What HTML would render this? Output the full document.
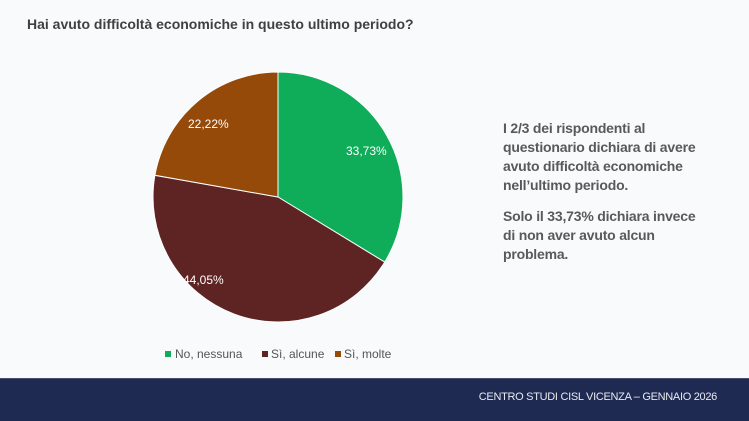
<!DOCTYPE html>
<html><head><meta charset="utf-8"><style>
body{margin:0;width:749px;height:420px;background:#f8fafc;font-family:"Liberation Sans",sans-serif;position:relative;overflow:hidden}
.t{position:absolute;left:27px;top:16px;font-size:14px;font-weight:bold;color:#404040}
.p{position:absolute;left:503px;top:119px;font-size:14px;font-weight:bold;color:#595959;line-height:19px;letter-spacing:-0.2px}
.p div{margin-bottom:12px}
.f{position:absolute;left:0;top:378px;width:749px;height:42px;background:#1e2a52;border-top:1px solid #46506e}
.f span{position:absolute;right:32px;top:12px;color:#e8eaf0;font-size:11px;letter-spacing:-0.3px}
</style></head><body>
<div class="t">Hai avuto difficoltà economiche in questo ultimo periodo?</div>
<svg width="749" height="378" style="position:absolute;left:0;top:0">
<path d="M278,197 L278,72 A125,125 0 0 1 384.7,262.1 Z" fill="#0fad59" stroke="#fff" stroke-width="1"/>
<path d="M278,197 L384.7,262.1 A125,125 0 0 1 154.9,175.3 Z" fill="#5e2323" stroke="#fff" stroke-width="1"/>
<path d="M278,197 L154.9,175.3 A125,125 0 0 1 278,72 Z" fill="#954a0a" stroke="#fff" stroke-width="1"/>
<g font-family="Liberation Sans,sans-serif" font-size="12" fill="#fff">
<text x="346" y="155">33,73%</text>
<text x="183" y="284">44,05%</text>
<text x="188" y="128">22,22%</text>
</g>
<g font-family="Liberation Sans,sans-serif" font-size="12" fill="#555">
<rect x="165" y="351" width="6" height="6" fill="#0fad59"/><text x="175" y="358">No, nessuna</text>
<rect x="262" y="351" width="6" height="6" fill="#5e2323"/><text x="271" y="358">Sì, alcune</text>
<rect x="335" y="351" width="6" height="6" fill="#954a0a"/><text x="344" y="358">Sì, molte</text>
</g>
</svg>
<div class="p"><div>I 2/3 dei rispondenti al<br>questionario dichiara di avere<br>avuto difficoltà economiche<br>nell’ultimo periodo.</div><div>Solo il 33,73% dichiara invece<br>di non aver avuto alcun<br>problema.</div></div>
<div class="f"><span>CENTRO STUDI CISL VICENZA – GENNAIO 2026</span></div>
</body></html>
